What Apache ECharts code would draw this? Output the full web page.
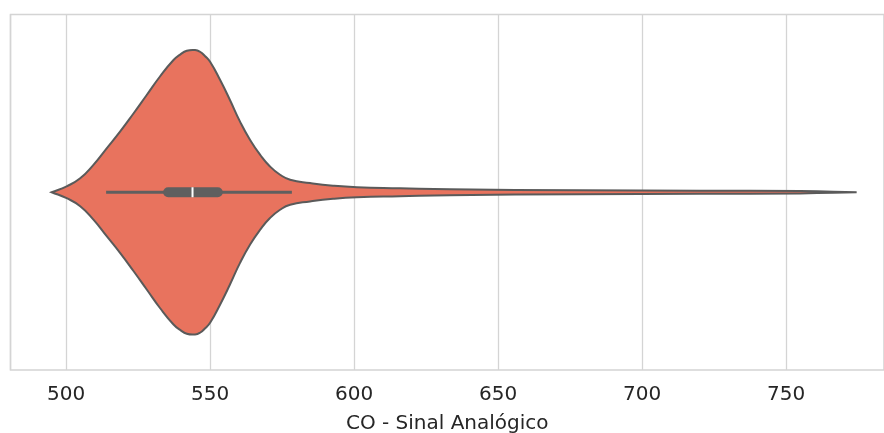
<!DOCTYPE html>
<html>
<head>
<meta charset="utf-8">
<script src="https://cdn.jsdelivr.net/npm/echarts@6/dist/echarts.min.js"></script>
<style>
html,body{margin:0;padding:0;background:#fff;}
#chart{width:884px;height:433px;}
</style>
</head>
<body>
<div id="chart"></div>
<script>
// Violin profile: values along the x axis and relative half-width (density)
const violinValues = [495.0, 500.2, 504.9, 509.5, 514.1, 518.8, 523.4, 528.0, 532.6, 537.3, 539.6, 541.9, 544.8, 546.5, 548.2, 550.0, 553.5, 556.9, 560.4, 563.9, 567.4, 570.8, 574.3, 577.8, 584.7, 592.7, 601.0, 616.0, 633.3, 678.5, 720.1, 754.9, 774.5];
const violinDensity = [0, 0.042, 0.098, 0.193, 0.309, 0.428, 0.554, 0.684, 0.814, 0.930, 0.968, 0.995, 1.0, 0.988, 0.958, 0.918, 0.789, 0.649, 0.497, 0.368, 0.263, 0.181, 0.123, 0.088, 0.065, 0.046, 0.035, 0.028, 0.021, 0.014, 0.011, 0.008, 0];
// Inner box: [lower whisker, Q1, median, Q3, upper whisker]
const boxStats = [513.9, 533.7, 543.9, 554.4, 578.4];
const axisName = 'CO - Sinal Analógico';

const chart = echarts.init(document.getElementById('chart'), null, {renderer: 'canvas'});
const halfWidth = 0.8;

function renderViolin(params, api) {
  const upper = [], lower = [];
  for (let i = 0; i < violinValues.length; i++) {
    upper.push(api.coord([violinValues[i], violinDensity[i] * halfWidth]));
  }
  for (let i = violinValues.length - 1; i >= 0; i--) {
    lower.push(api.coord([violinValues[i], -violinDensity[i] * halfWidth]));
  }
  const pts = upper.concat(lower);
  const wl = api.coord([boxStats[0], 0]);
  const q1 = api.coord([boxStats[1], 0]);
  const md = api.coord([boxStats[2], 0]);
  const q3 = api.coord([boxStats[3], 0]);
  const wh = api.coord([boxStats[4], 0]);
  return {
    type: 'group',
    children: [
      {type: 'polygon', shape: {points: pts, smooth: 0.5},
       style: {fill: '#E8735E', stroke: '#5a5a5a', lineWidth: 2}},
      {type: 'line', shape: {x1: wl[0], y1: wl[1], x2: wh[0], y2: wh[1]},
       style: {stroke: '#5f5f5f', lineWidth: 3.2}},
      {type: 'rect', shape: {x: q1[0], y: q1[1] - 5, width: q3[0] - q1[0], height: 10, r: 5},
       style: {fill: '#5f5f5f'}},
      {type: 'rect', shape: {x: md[0] - 1, y: md[1] - 5, width: 2, height: 10},
       style: {fill: '#ffffff'}}
    ]
  };
}

chart.setOption({
  animation: false,
  backgroundColor: '#ffffff',
  grid: {left: 10.5, right: 0, top: 14.5, bottom: 63, show: true, borderColor: '#d4d4d4', borderWidth: 1.5, containLabel: false, outerBoundsMode: 'none'},
  xAxis: {
    type: 'value', min: 480.7, max: 784.0,
    name: axisName, nameLocation: 'middle', nameGap: 44,
    nameTextStyle: {fontFamily: 'DejaVu Sans', fontSize: 20, color: '#262626'},
    axisLine: {show: false}, axisTick: {show: false},
    axisLabel: {fontFamily: 'DejaVu Sans', fontSize: 20, color: '#262626', margin: 14.5, showMinLabel: false, showMaxLabel: false},
    splitLine: {show: true, lineStyle: {color: '#d4d4d4', width: 1.3}}
  },
  yAxis: {
    type: 'value', min: -1, max: 1, show: false,
    splitLine: {show: false}
  },
  series: [{
    type: 'custom',
    renderItem: renderViolin,
    data: [[0, 0]],
    clip: false,
    z: 3
  }]
});
</script>
</body>
</html>
